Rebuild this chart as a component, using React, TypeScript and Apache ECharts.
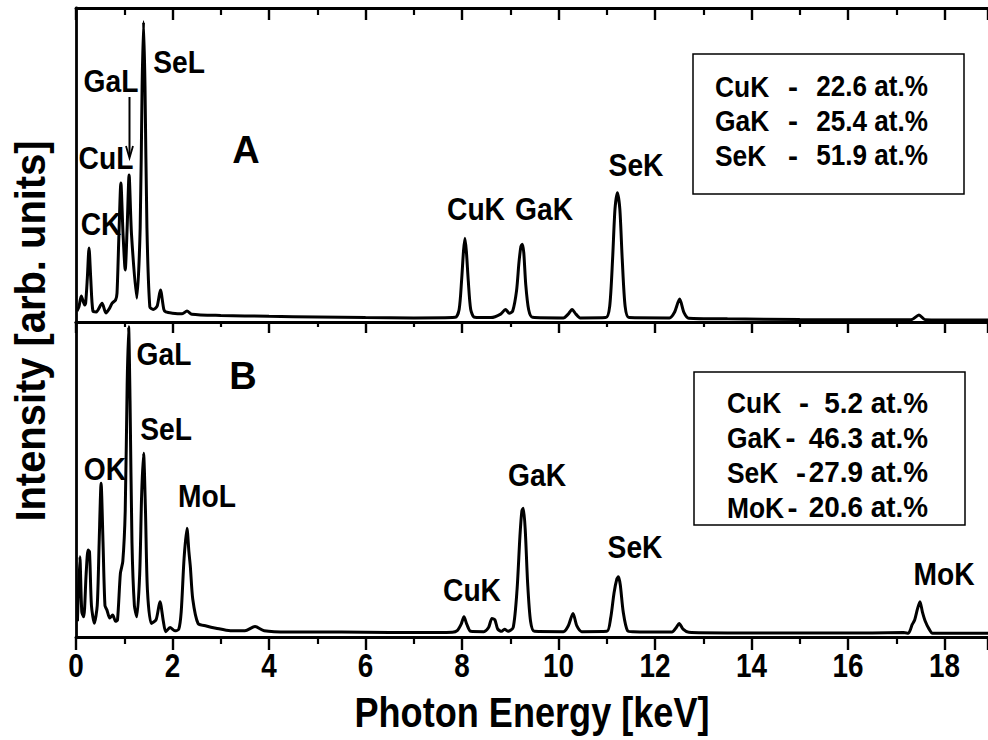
import React, { useEffect, useRef } from 'react';
import * as echarts from 'echarts';

const FONT = "'Liberation Sans', Arial, sans-serif";

// Energy axis [keV]
const X_MIN = 0;
const X_MAX = 18.9;
const X_INTERVAL = 2;
const xTickLabels = [0, 2, 4, 6, 8, 10, 12, 14, 16, 18];

// Spectrum A: [energy keV, intensity arb.]
const spectrumA: [number, number][] = [
  [0.02, 3.5], [0.06, 4.8], [0.11, 8.3], [0.18, 5.4], [0.2, 6], [0.235, 14], [0.27, 23.6], [0.305, 14], [0.35, 3.5],
  [0.42, 3.2], [0.54, 6], [0.62, 2.9], [0.7, 4.5], [0.75, 6], [0.82, 7], [0.85, 9.2], [0.89, 28], [0.93, 44.3],
  [0.975, 28], [1.02, 16.6], [1.06, 30], [1.1, 46.8], [1.15, 28], [1.26, 7.6], [1.33, 30], [1.37, 75], [1.4, 95.6],
  [1.43, 75], [1.47, 30], [1.53, 4.8], [1.6, 4], [1.68, 5], [1.75, 10.2], [1.82, 4], [1.86, 3.2], [2.0, 2.8],
  [2.2, 2.6], [2.3, 3.5], [2.4, 2.5], [3.0, 2.1], [4.0, 1.8], [5.0, 1.6], [6.0, 1.4], [7.0, 1.3], [7.86, 1.5],
  [7.94, 4], [7.99, 13], [8.03, 22.5], [8.06, 26.7], [8.09, 22.5], [8.13, 13], [8.18, 4], [8.26, 1.5], [8.6, 1.4],
  [8.8, 2.5], [8.9, 4.0], [8.98, 2.8], [9.05, 3.5], [9.13, 10], [9.18, 19], [9.22, 24], [9.25, 24.8], [9.28, 22],
  [9.32, 12], [9.38, 4], [9.46, 1.5], [10.1, 1.3], [10.2, 2.5], [10.28, 4.0], [10.36, 2.5], [10.45, 1.3],
  [10.98, 1.4], [11.06, 5], [11.12, 20], [11.17, 36], [11.22, 41.2], [11.27, 36], [11.32, 20], [11.38, 5],
  [11.46, 1.4], [12.3, 1.3], [12.4, 3], [12.51, 7.3], [12.6, 3], [12.7, 1.2], [13.5, 1.0], [15.0, 0.8],
  [16.5, 0.7], [17.3, 0.7], [17.47, 2.2], [17.6, 0.7], [18.4, 0.6], [18.9, 0.6],
];

// Spectrum B: [energy keV, intensity arb.]
const spectrumB: [number, number][] = [
  [0.03, 5], [0.08, 25.5], [0.12, 8], [0.16, 6.4], [0.21, 20], [0.25, 27.6], [0.28, 27], [0.32, 10], [0.38, 4.4],
  [0.44, 10], [0.48, 30], [0.52, 48.8], [0.56, 30], [0.6, 10], [0.64, 8.6], [0.7, 6], [0.76, 7], [0.82, 5],
  [0.86, 5.4], [0.92, 20.2], [0.97, 24], [1.02, 40], [1.06, 80], [1.09, 98.5], [1.12, 75], [1.16, 30], [1.21, 10],
  [1.26, 6.4], [1.32, 20], [1.36, 45], [1.4, 58.3], [1.44, 40], [1.48, 15], [1.56, 4.3], [1.66, 5.5], [1.74, 11.2],
  [1.81, 5], [1.86, 1.7], [1.95, 3], [2.05, 2], [2.13, 2.5], [2.18, 8], [2.24, 25], [2.3, 34.5], [2.34, 27],
  [2.37, 22.3], [2.42, 12], [2.53, 4.3], [2.7, 3.5], [2.9, 2.8], [3.2, 2], [3.5, 2], [3.71, 3.3], [3.9, 2],
  [4.4, 1.6], [5.0, 1.6], [6.0, 1.5], [7.0, 1.4], [7.8, 1.5], [7.9, 2], [7.98, 4], [8.04, 6.4], [8.1, 4],
  [8.18, 1.8], [8.45, 1.7], [8.55, 3], [8.62, 5.9], [8.68, 5.5], [8.74, 2.5], [8.82, 1.8], [8.88, 2.5],
  [8.95, 1.8], [9.06, 3], [9.14, 15], [9.2, 32], [9.24, 40], [9.27, 40.9], [9.31, 34], [9.36, 17], [9.42, 5],
  [9.5, 1.8], [10.1, 1.7], [10.2, 3.5], [10.3, 7.5], [10.38, 3.5], [10.48, 1.7], [11.0, 1.8], [11.08, 6],
  [11.15, 14], [11.21, 18.5], [11.24, 19.1], [11.28, 16.5], [11.34, 8], [11.43, 2], [11.55, 1.7], [12.35, 1.6],
  [12.44, 3], [12.5, 4.3], [12.58, 2.5], [12.7, 1.5], [13.5, 1.3], [15.0, 1.3], [16.5, 1.3], [17.15, 1.4],
  [17.25, 1.2], [17.33, 4], [17.38, 5.4], [17.44, 9], [17.49, 11.2], [17.54, 8], [17.6, 5], [17.68, 2.5],
  [17.75, 1.2], [18.2, 1.2], [18.9, 1.2],
];

// Composition tables
const compositionA: [string, string][] = [
  ['CuK', '22.6 at.%'],
  ['GaK', '25.4 at.%'],
  ['SeK', '51.9 at.%'],
];
const compositionB: [string, string][] = [
  ['CuK', '5.2 at.%'],
  ['GaK', '46.3 at.%'],
  ['SeK', '27.9 at.%'],
  ['MoK', '20.6 at.%'],
];

const peakLabelsA = ['CK', 'CuL', 'GaL', 'SeL', 'CuK', 'GaK', 'SeK'];
const peakLabelsB = ['OK', 'GaL', 'SeL', 'MoL', 'CuK', 'GaK', 'SeK', 'MoK'];

const X_TITLE = 'Photon Energy [keV]';
const Y_TITLE = 'Intensity [arb. units]';

const txt = (text: string, x: number, y: number, size: number, align = 'center', sx = 1, extra: any = {}) => ({
  type: 'text',
  x,
  y,
  scaleX: sx,
  ...extra,
  style: {
    text,
    font: `bold ${size}px ${FONT}`,
    fill: '#000',
    align,
    verticalAlign: 'middle',
  },
});

export default function App() {
  const ref = useRef<HTMLDivElement>(null);

  useEffect(() => {
    if (!ref.current) return;
    const chart = echarts.init(ref.current, undefined, { renderer: 'svg' });

    const PX_PER_KEV = 49.6;
    const gridWidth = (X_MAX - X_MIN) * PX_PER_KEV;

    const baseX = {
      type: 'value',
      min: X_MIN,
      max: X_MAX,
      interval: X_INTERVAL,
      splitLine: { show: false },
      axisLine: { show: true, onZero: false, lineStyle: { color: '#000', width: 2.8 } },
      axisLabel: { show: false },
    };
    const ticks = (inside: boolean, len: number, minorLen: number) => ({
      axisTick: { show: true, inside, length: len, lineStyle: { color: '#000', width: 2.4 } },
      minorTick: { show: true, splitNumber: 2, length: minorLen, lineStyle: { color: '#000', width: 2.2 } },
    });

    const baseY = {
      type: 'value',
      min: 0,
      max: 100,
      splitLine: { show: false },
      axisTick: { show: false },
      axisLabel: { show: false },
      axisLine: { show: true, onZero: false, lineStyle: { color: '#000', width: 2.8 } },
    };

    chart.setOption({
      animation: false,
      backgroundColor: '#fff',
      grid: [
        { left: 76, top: 8, width: gridWidth, height: 314 },
        { left: 76, top: 322, width: gridWidth, height: 315 },
      ],
      xAxis: [
        { ...baseX, gridIndex: 0, position: 'top', ...ticks(true, 12, 7) },
        { ...baseX, gridIndex: 0, position: 'bottom', ...ticks(false, 11, 5) },
        { ...baseX, gridIndex: 1, position: 'top', axisTick: { show: false } },
        { ...baseX, gridIndex: 1, position: 'bottom', ...ticks(false, 13, 7) },
      ],
      yAxis: [
        { ...baseY, gridIndex: 0 },
        { ...baseY, gridIndex: 1 },
      ],
      series: [
        {
          type: 'line',
          xAxisIndex: 1,
          yAxisIndex: 0,
          data: spectrumA,
          showSymbol: false,
          symbol: 'none',
          smooth: 0.25,
          lineStyle: { color: '#000', width: 3 },
        },
        {
          type: 'line',
          xAxisIndex: 3,
          yAxisIndex: 1,
          data: spectrumB,
          showSymbol: false,
          symbol: 'none',
          smooth: 0.25,
          lineStyle: { color: '#000', width: 3 },
        },
      ],
    });

    const legendLines = (
      rows: [string, string][],
      nameX: number,
      dashX: number[],
      valueRight: number,
      ys: number[],
      valueScale: number,
    ) =>
      rows.flatMap(([n, v], i) => [
        txt(n, nameX, ys[i], 30, 'left', 0.88),
        txt('-', dashX[i], ys[i], 30, 'center', 1),
        txt(v, valueRight, ys[i], 30, 'right', valueScale),
      ]);

    // Tick labels positioned through the axis scale
    const tickTexts = xTickLabels.map((v) => {
      const p = chart.convertToPixel({ xAxisIndex: 3 }, v) as number;
      return txt(String(v), p, 666, 34, 'center', 0.82);
    });

    const PL = 31;
    const PS = 0.91;
    const graphic: any[] = [
      // Panel A peak labels
      txt(peakLabelsA[0], 101, 224, PL, 'center', PS),
      txt(peakLabelsA[1], 106, 158, PL, 'center', PS),
      txt(peakLabelsA[2], 111, 81, PL, 'center', PS),
      txt(peakLabelsA[3], 179, 62, PL, 'center', PS),
      txt(peakLabelsA[4], 476, 209, PL, 'center', PS),
      txt(peakLabelsA[5], 544, 209, PL, 'center', PS),
      txt(peakLabelsA[6], 636, 165, PL, 'center', PS),
      txt('A', 246, 150, 38),
      // arrow GaL
      { type: 'line', shape: { x1: 129.5, y1: 97, x2: 129.5, y2: 156 }, style: { stroke: '#000', lineWidth: 2 } },
      {
        type: 'polyline',
        shape: { points: [[126, 146], [129.5, 158], [133, 146]] },
        style: { stroke: '#000', lineWidth: 1.8, fill: null },
      },
      // Panel B peak labels
      txt(peakLabelsB[0], 105, 469, PL, 'center', PS),
      txt(peakLabelsB[1], 164, 354, PL, 'center', PS),
      txt(peakLabelsB[2], 166, 429, PL, 'center', PS),
      txt(peakLabelsB[3], 207, 496, PL, 'center', PS),
      txt(peakLabelsB[4], 472, 590, PL, 'center', PS),
      txt(peakLabelsB[5], 537, 475, PL, 'center', PS),
      txt(peakLabelsB[6], 635, 547, PL, 'center', PS),
      txt(peakLabelsB[7], 944, 574, PL, 'center', PS),
      txt('B', 243, 376, 38),
      // Composition boxes
      { type: 'rect', shape: { x: 693, y: 54, width: 271, height: 140 }, style: { fill: '#fff', stroke: '#000', lineWidth: 1.5 } },
      ...legendLines(compositionA, 715, [793, 793, 793], 928, [86, 120.5, 155], 0.87),
      { type: 'rect', shape: { x: 694, y: 372, width: 271, height: 153 }, style: { fill: '#fff', stroke: '#000', lineWidth: 1.5 } },
      ...legendLines(compositionB, 727, [804, 790.5, 801, 792.5], 928, [402.5, 437.5, 472, 507], 0.93),
      // Tick labels
      ...tickTexts,
      // Axis titles
      txt(X_TITLE, 532, 712, 43, 'center', 0.84),
      txt(Y_TITLE, 31, 331, 42, 'center', 0.95, { rotation: Math.PI / 2 }),
    ];

    chart.setOption({ graphic });

    return () => chart.dispose();
  }, []);

  return (
    <div
      ref={ref}
      style={{ position: 'absolute', left: 0, top: 0, width: 988, height: 740, overflow: 'hidden', background: '#fff' }}
    />
  );
}
